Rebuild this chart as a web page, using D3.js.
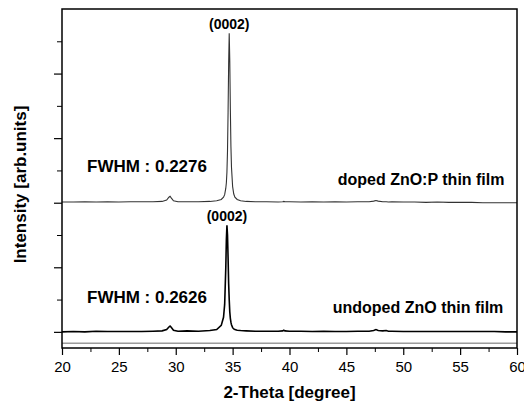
<!DOCTYPE html>
<html lang="en">
<head>
    <meta charset="UTF-8">
    <title>XRD ZnO thin films</title>
    <script src="https://d3js.org/d3.v7.min.js"></script>
    <style>
        body {
            margin: 0;
            background: #fff;
            font-family: "Liberation Sans", Arial, sans-serif;
        }
        .tick text {
            font-size: 15px;
            fill: #000;
        }
        .bold {
            font-weight: bold;
            fill: #000;
        }
    </style>
</head>
<body>
    <svg id="chart" width="524" height="410"></svg>

    <script>
        // 2-theta grid shared by both scans (denser around the peaks)
        const twoTheta = [20, 21, 22, 23, 24, 25, 26, 27, 28, 28.8, 29.2, 29.4, 29.5, 29.6, 29.8, 30.2,
            31, 32, 33, 33.6, 34.0, 34.2, 34.3, 34.4, 34.45, 34.5, 34.55, 34.6, 34.65, 34.7, 34.75,
            34.8, 34.85, 34.9, 35.0, 35.1, 35.2, 35.4, 35.7, 36.2, 37, 38, 39, 39.4, 39.5, 39.6, 40,
            41, 42, 43, 44, 45, 46, 47, 47.4, 47.6, 47.8, 48.2, 48.5, 48.7, 49, 50, 51, 52, 53, 54,
            55, 56, 57, 58, 59, 60];

        // doped ZnO:P film (arb. units, before stacking)
        const dopedI = [0.02, 0.02, 0.03, 0.02, 0.03, 0.02, 0.03, 0.03, 0.03, 0.04, 0.08, 0.17, 0.2, 0.15, 0.06, 0.03,
            0.03, 0.03, 0.04, 0.06, 0.1, 0.17, 0.25, 0.45, 0.62, 0.95, 1.6, 2.8, 4.3, 5.25, 4.4,
            2.9, 1.75, 1.1, 0.5, 0.27, 0.17, 0.1, 0.06, 0.04, 0.03, 0.03, 0.02, 0.03, 0.04, 0.03, 0.03,
            0.02, 0.03, 0.02, 0.03, 0.02, 0.03, 0.03, 0.05, 0.07, 0.05, 0.03, 0.03, 0.02, 0.03, 0.02, 0.02, 0.01, 0.02, 0.01,
            0.01, 0.01, 0.0, 0.0, 0.0, 0.0];

        // undoped ZnO film
        const undopedI = [0.0, 0.01, 0.0, 0.02, 0.01, 0.01, 0.01, 0.01, 0.02, 0.03, 0.07, 0.15, 0.18, 0.14, 0.05, 0.02,
            0.03, 0.02, 0.04, 0.07, 0.2, 0.45, 0.85, 2.0, 2.85, 3.3, 3.0, 2.3, 1.5, 1.0, 0.62,
            0.42, 0.3, 0.22, 0.13, 0.09, 0.07, 0.05, 0.04, 0.03, 0.02, 0.02, 0.02, 0.03, 0.05, 0.03, 0.02,
            0.02, 0.01, 0.02, 0.01, 0.01, 0.02, 0.02, 0.04, 0.07, 0.04, 0.03, 0.04, 0.02, 0.02, 0.01, 0.01, 0.01, 0.01, 0.01,
            0.01, 0.01, 0.01, 0.01, 0.0, 0.0];

        const dopedOffset = 4;
        const xTicks = [20, 25, 30, 35, 40, 45, 50, 55, 60];
        const xMinor = [22.5, 27.5, 32.5, 37.5, 42.5, 47.5, 52.5, 57.5];
        const yMajor = [0, 2, 4, 6, 8];
        const yMinor = [1, 3, 5, 7, 9];
        const lowerLine = -0.35;

        const svg = d3.select("#chart");
        const margin = { top: 9, right: 7, bottom: 62, left: 62 };
        const width = 524 - margin.left - margin.right;
        const height = 410 - margin.top - margin.bottom;

        const g = svg.append("g")
            .attr("transform", `translate(${margin.left},${margin.top})`);

        const x = d3.scaleLinear().domain([20, 60]).range([0, width]);
        const y = d3.scaleLinear().domain([-0.5, 10]).range([height, 0]);

        // x axis: major + minor ticks
        g.append("g")
            .attr("transform", `translate(0,${height})`)
            .call(d3.axisBottom(x).tickValues(xMinor).tickSize(4).tickFormat(""))
            .call(a => a.select(".domain").remove())
            .call(a => a.selectAll("line").attr("stroke", "#000"));

        const xAxis = g.append("g")
            .attr("transform", `translate(0,${height})`)
            .call(d3.axisBottom(x).tickValues(xTicks).tickSize(7).tickPadding(6).tickFormat(d3.format("d")));
        xAxis.select(".domain").remove();
        xAxis.selectAll("line").attr("stroke", "#000").attr("stroke-width", 1.2);
        xAxis.selectAll("text").attr("font-family", "Liberation Sans, Arial, sans-serif");

        // y axis ticks, no labels
        const yAx = g.append("g")
            .call(d3.axisLeft(y).tickValues(yMajor).tickSize(8).tickFormat(""));
        yAx.select(".domain").remove();
        yAx.selectAll("line").attr("stroke", "#000").attr("stroke-width", 1.2);

        const yAxMinor = g.append("g")
            .call(d3.axisLeft(y).tickValues(yMinor).tickSize(5).tickFormat(""));
        yAxMinor.select(".domain").remove();
        yAxMinor.selectAll("line").attr("stroke", "#000");

        // thin line just above the bottom frame
        g.append("line")
            .attr("x1", 0).attr("x2", width)
            .attr("y1", y(lowerLine)).attr("y2", y(lowerLine))
            .attr("stroke", "#444").attr("stroke-width", 0.8);

        // scans
        const line = d3.line()
            .x((d, i) => x(twoTheta[i]))
            .y(d => y(d));

        g.append("path")
            .datum(undopedI)
            .attr("fill", "none")
            .attr("stroke", "#000")
            .attr("stroke-width", 1.6)
            .attr("d", line);

        g.append("path")
            .datum(dopedI.map(v => v + dopedOffset))
            .attr("fill", "none")
            .attr("stroke", "#333")
            .attr("stroke-width", 1.1)
            .attr("d", line);

        // frame
        g.append("rect")
            .attr("width", width)
            .attr("height", height)
            .attr("fill", "none")
            .attr("stroke", "#000")
            .attr("stroke-width", 1.5);

        // annotations
        const dopedPeak = twoTheta[d3.maxIndex(dopedI)];
        const undopedPeak = twoTheta[d3.maxIndex(undopedI)];

        g.append("text").attr("class", "bold")
            .attr("x", x(dopedPeak)).attr("y", y(d3.max(dopedI) + dopedOffset) - 4)
            .attr("text-anchor", "middle").attr("font-size", 14)
            .text("(0002)");

        g.append("text").attr("class", "bold")
            .attr("x", x(undopedPeak)).attr("y", y(d3.max(undopedI)) - 4)
            .attr("text-anchor", "middle").attr("font-size", 14)
            .text("(0002)");

        g.append("text").attr("class", "bold")
            .attr("x", x(22.2)).attr("y", y(dopedOffset + 0.95))
            .attr("font-size", 17)
            .text("FWHM : 0.2276");

        g.append("text").attr("class", "bold")
            .attr("x", x(22.2)).attr("y", y(0.9))
            .attr("font-size", 17)
            .text("FWHM : 0.2626");

        g.append("text").attr("class", "bold")
            .attr("x", x(58.9)).attr("y", y(dopedOffset + 0.55))
            .attr("text-anchor", "end").attr("font-size", 16)
            .text("doped ZnO:P thin film");

        g.append("text").attr("class", "bold")
            .attr("x", x(58.8)).attr("y", y(0.58))
            .attr("text-anchor", "end").attr("font-size", 16)
            .text("undoped ZnO thin film");

        // axis titles
        svg.append("text").attr("class", "bold")
            .attr("x", margin.left + width / 2).attr("y", 398)
            .attr("text-anchor", "middle").attr("font-size", 17)
            .text("2-Theta [degree]");

        svg.append("text").attr("class", "bold")
            .attr("transform", `translate(26,${margin.top + height / 2 + 6}) rotate(-90)`)
            .attr("text-anchor", "middle").attr("font-size", 17)
            .text("Intensity [arb.units]");
    </script>
</body>
</html>
